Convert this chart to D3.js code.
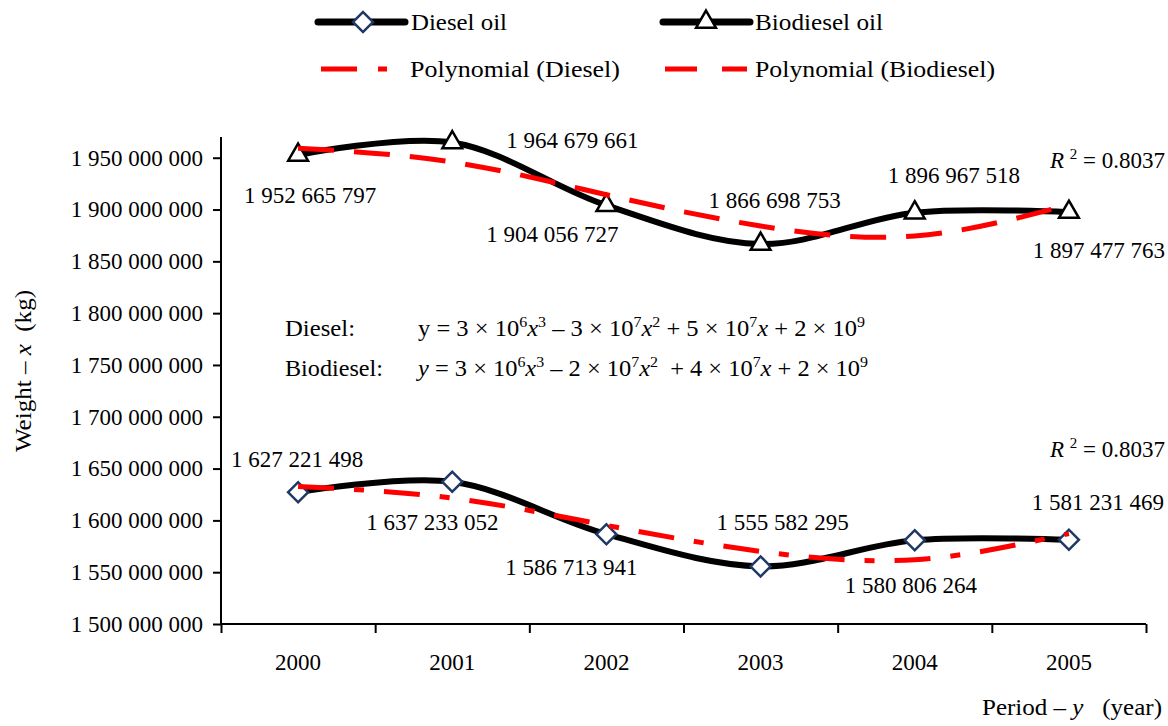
<!DOCTYPE html>
<html><head><meta charset="utf-8">
<script src="https://cdn.jsdelivr.net/npm/d3@7"></script>
<style>
body{margin:0;background:#fff}
svg text{font-family:"Liberation Serif","Times New Roman",serif;fill:#000}
</style>
</head><body>
<svg id="chart" width="1168" height="726"></svg>
<script>
// ---------- data ----------
const years = ["2000","2001","2002","2003","2004","2005"];
const diesel = [1627221498,1637233052,1586713941,1555582295,1580806264,1581231469];
const biodiesel = [1952665797,1964679661,1904056727,1866698753,1896967518,1897477763];
// polynomial (3rd order) trend values read at each year
const trendDiesel = [1632700000,1621500000,1595200000,1570100000,1562100000,1587300000];
const trendBiodiesel = [1959200000,1945800000,1914300000,1884100000,1874500000,1904700000];
const yTickValues = [1500000000,1550000000,1600000000,1650000000,1700000000,1750000000,1800000000,1850000000,1900000000,1950000000];
const r2Diesel = "0.8037";
const r2Biodiesel = "0.8037";
const legendLabels = ["Diesel oil","Biodiesel oil","Polynomial (Diesel)","Polynomial (Biodiesel)"];

// ---------- layout ----------
const pLeft = 221, pRight = 1146, pTop = 137, pBottom = 624;
const fs = 23;
// label offsets relative to marker [dx, dy(baseline)]
const labOffB = [[12,48],[120,5],[-54,37],[14,-36],[39,-30],[30,46]];
const labOffD = [[-1,-25],[-20,48],[-35,41],[22,-36],[-4,53],[29,-30]];
const legendWidths = [96,128,210,240];

const svg = d3.select("#chart");
const loc = d3.formatLocale({decimal:".",thousands:" ",grouping:[3],currency:["",""]});
const fmt = loc.format(",");

const x = d3.scaleBand().domain(years).range([pLeft,pRight]);
const xc = d => x(d) + x.bandwidth()/2;
const xEdge = d3.scaleLinear().domain([0,years.length]).range([pLeft,pRight]);
const y = d3.scaleLinear().domain([1500000000,1970000000]).range([pBottom,pTop]);

// ---------- axes ----------
const gy = svg.append("g").attr("transform",`translate(${pLeft},0)`)
  .call(d3.axisLeft(y).tickValues(yTickValues).tickSize(8).tickPadding(10).tickFormat(fmt));
gy.selectAll("text").style("font-size",fs+"px").style("font-family","Liberation Serif");
gy.selectAll("line,path").attr("stroke","#000").attr("stroke-width",2);
gy.select(".domain").attr("d",`M0,${pTop}V${pBottom}`);

const gxt = svg.append("g").attr("transform",`translate(0,${pBottom})`)
  .call(d3.axisBottom(xEdge).ticks(years.length).tickSize(9).tickFormat(""));
gxt.selectAll("line,path").attr("stroke","#000").attr("stroke-width",2);
gxt.select(".domain").attr("d",`M${pLeft},0H${pRight}`);

const gxl = svg.append("g").attr("transform",`translate(0,${pBottom})`)
  .call(d3.axisBottom(x).tickSize(0).tickPadding(30));
gxl.select(".domain").remove();
gxl.selectAll("text").style("font-size",fs+"px").style("font-family","Liberation Serif");

// axis titles
const yt = svg.append("text").attr("transform","translate(31,371) rotate(-90)")
  .attr("text-anchor","middle").style("font-size",fs+"px").attr("xml:space","preserve")
  .attr("textLength",162).attr("lengthAdjust","spacingAndGlyphs");
yt.append("tspan").text("Weight – ");
yt.append("tspan").style("font-style","italic").text("x");
yt.append("tspan").text("  (kg)");

const xt = svg.append("text").attr("x",982).attr("y",715)
  .style("font-size",fs+"px").attr("xml:space","preserve")
  .attr("textLength",180).attr("lengthAdjust","spacingAndGlyphs");
xt.append("tspan").text("Period – ");
xt.append("tspan").style("font-style","italic").text("y");
xt.append("tspan").text("   (year)");

// ---------- series ----------
const smooth = d3.line().x((d,i)=>xc(years[i])).y(d=>y(d)).curve(d3.curveCatmullRom.alpha(0.5));
const trendLine = d3.line().x((d,i)=>xc(years[i])).y(d=>y(d)).curve(d3.curveNatural);

[biodiesel, diesel].forEach(s=>{
  svg.append("path").attr("d",smooth(s)).attr("fill","none").attr("stroke","#000")
    .attr("stroke-width",6).attr("stroke-linecap","round").attr("stroke-linejoin","round");
});

const diamond = d3.symbol().type(d3.symbolSquare).size(200);
const tri = d3.symbol().type(d3.symbolTriangle).size(170);

svg.append("g").selectAll("path").data(diesel).join("path")
  .attr("d",diamond).attr("transform",(d,i)=>`translate(${xc(years[i])},${y(d)}) rotate(45)`)
  .attr("fill","#fff").attr("stroke","#1f3864").attr("stroke-width",2.5);
svg.append("g").selectAll("path").data(biodiesel).join("path")
  .attr("d",tri).attr("transform",(d,i)=>`translate(${xc(years[i])},${y(d)})`)
  .attr("fill","#fff").attr("stroke","#000").attr("stroke-width",2.5);

svg.append("path").attr("d",trendLine(trendBiodiesel)).attr("fill","none").attr("stroke","#ff0000")
  .attr("stroke-width",5).attr("stroke-dasharray","36,20");
svg.append("path").attr("d",trendLine(trendDiesel)).attr("fill","none").attr("stroke","#ff0000")
  .attr("stroke-width",5).attr("stroke-dasharray","36,20,10,20");

// ---------- data labels ----------
svg.append("g").selectAll("text").data(biodiesel).join("text")
  .attr("x",(d,i)=>xc(years[i])+labOffB[i][0]).attr("y",(d,i)=>y(d)+labOffB[i][1])
  .attr("text-anchor","middle").style("font-size",fs+"px").text(d=>fmt(d));
svg.append("g").selectAll("text").data(diesel).join("text")
  .attr("x",(d,i)=>xc(years[i])+labOffD[i][0]).attr("y",(d,i)=>y(d)+labOffD[i][1])
  .attr("text-anchor","middle").style("font-size",fs+"px").text(d=>fmt(d));

function r2(xp, yp, val){
  const t = svg.append("text").attr("x",xp).attr("y",yp).style("font-size",fs+"px").attr("xml:space","preserve");
  t.append("tspan").style("font-style","italic").text("R ");
  t.append("tspan").attr("dy",-9).style("font-size","15px").text("2");
  t.append("tspan").attr("dy",9).text(" = "+val);
}
r2(1050,168,r2Biodiesel);
r2(1050,457,r2Diesel);

// ---------- equations ----------
function eq(yp, name, nameW, eqW, parts){
  svg.append("text").attr("x",285).attr("y",yp).style("font-size",fs+"px")
    .attr("textLength",nameW).attr("lengthAdjust","spacingAndGlyphs").text(name);
  const t = svg.append("text").attr("x",418).attr("y",yp).style("font-size",fs+"px").attr("xml:space","preserve")
    .attr("textLength",eqW).attr("lengthAdjust","spacingAndGlyphs");
  let up = 0;
  parts.forEach(p=>{
    const s = t.append("tspan").text(p.t);
    const want = p.sup ? -9 : 0;
    if (want !== up) { s.attr("dy", want-up); up = want; }
    if (p.sup) s.style("font-size","15px");
    if (p.it) s.style("font-style","italic");
  });
}
eq(336,"Diesel:",70,447,[
  {t:"y = 3 × 10"},{t:"6",sup:1},{t:"x",it:1},{t:"3",sup:1},{t:" – 3 × 10"},{t:"7",sup:1},{t:"x",it:1},{t:"2",sup:1},
  {t:" + 5 × 10"},{t:"7",sup:1},{t:"x",it:1},{t:" + 2 × 10"},{t:"9",sup:1}]);
eq(376,"Biodiesel:",98,450,[
  {t:"y",it:1},{t:" = 3 × 10"},{t:"6",sup:1},{t:"x",it:1},{t:"3",sup:1},{t:" – 2 × 10"},{t:"7",sup:1},{t:"x",it:1},{t:"2",sup:1},
  {t:"  + 4 × 10"},{t:"7",sup:1},{t:"x",it:1},{t:" + 2 × 10"},{t:"9",sup:1}]);

// ---------- legend ----------
const lg = svg.append("g");
const rows = [22, 69];
function legText(xp, yp, i){
  lg.append("text").attr("x",xp).attr("y",yp+8).style("font-size",fs+"px")
    .attr("textLength",legendWidths[i]).attr("lengthAdjust","spacingAndGlyphs").text(legendLabels[i]);
}
lg.append("line").attr("x1",318).attr("x2",405).attr("y1",rows[0]).attr("y2",rows[0])
  .attr("stroke","#000").attr("stroke-width",7).attr("stroke-linecap","round");
lg.append("path").attr("d",diamond).attr("transform",`translate(363,${rows[0]}) rotate(45)`)
  .attr("fill","#fff").attr("stroke","#1f3864").attr("stroke-width",2.5);
legText(411, rows[0], 0);
lg.append("line").attr("x1",663).attr("x2",750).attr("y1",rows[0]).attr("y2",rows[0])
  .attr("stroke","#000").attr("stroke-width",7).attr("stroke-linecap","round");
lg.append("path").attr("d",tri).attr("transform",`translate(706,${rows[0]})`)
  .attr("fill","#fff").attr("stroke","#000").attr("stroke-width",2.5);
legText(755, rows[0], 1);
lg.append("line").attr("x1",321).attr("x2",387).attr("y1",rows[1]).attr("y2",rows[1])
  .attr("stroke","#ff0000").attr("stroke-width",5).attr("stroke-dasharray","36,21,9");
legText(410, rows[1], 2);
lg.append("line").attr("x1",665).attr("x2",747).attr("y1",rows[1]).attr("y2",rows[1])
  .attr("stroke","#ff0000").attr("stroke-width",5).attr("stroke-dasharray","32,25");
legText(755, rows[1], 3);
</script>
</body></html>
